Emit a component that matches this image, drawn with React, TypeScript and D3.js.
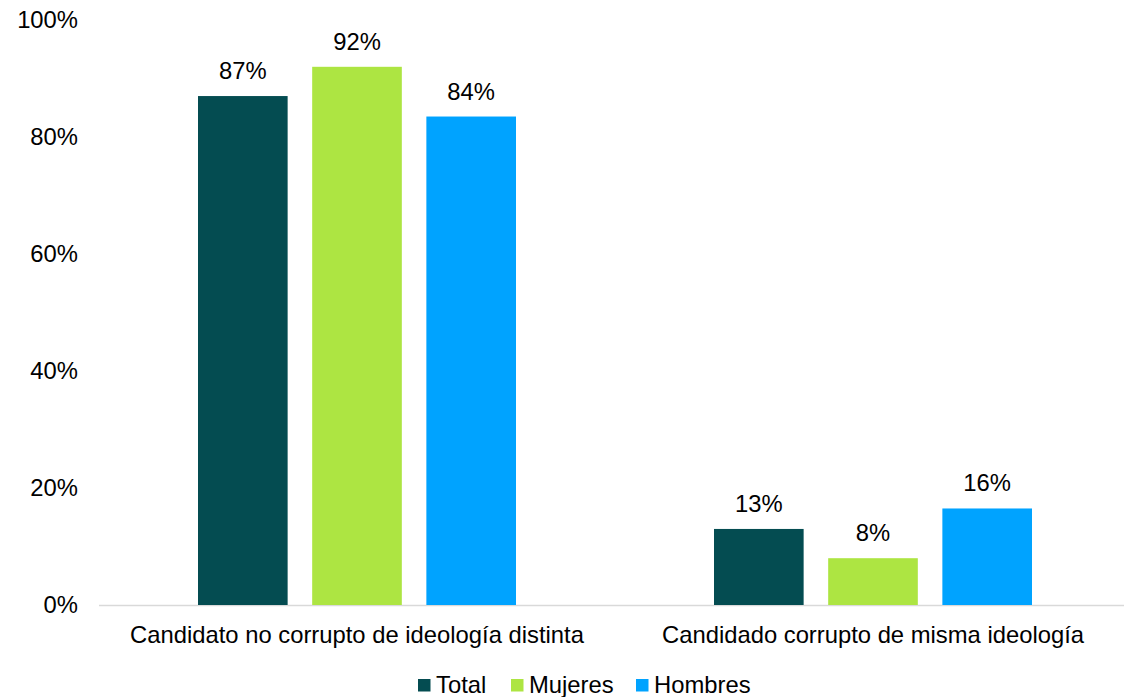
import React from "react";
import * as d3 from "d3";

const categories = ["Candidato no corrupto de ideología distinta", "Candidado corrupto de misma ideología"];
const seriesNames = ["Total", "Mujeres", "Hombres"];
const totalValues = [0.87, 0.13];
const mujeresValues = [0.92, 0.08];
const hombresValues = [0.835, 0.165];
const valueLabels = [["87%", "13%"], ["92%", "8%"], ["84%", "16%"]];
const yTicks = [0, 0.2, 0.4, 0.6, 0.8, 1.0];
const colors = ["#044c51", "#ade542", "#00a3ff"];

const W = 1124;
const H = 697;
const FONT = "'Liberation Sans', Arial, sans-serif";
const FS = 23.8;

export default function App() {
  const series = [totalValues, mujeresValues, hombresValues];
  const x0 = d3.scaleBand<string>().domain(categories).range([99, 1131]).paddingInner(0).paddingOuter(0);
  const x1 = d3.scaleBand<string>().domain(seriesNames).range([-159, 159]).paddingInner(0.215).paddingOuter(0);
  const y = d3.scaleLinear().domain([0, 1]).range([605, 20]);
  const fmt = d3.format(".0%");

  const legendX = [418, 511, 636];

  return (
    <svg width={W} height={H} style={{ position: "absolute", left: 0, top: 0, background: "#fff" }} fontFamily={FONT}>
      {yTicks.map((t) => (
        <text key={t} x={78} y={y(t)} dy="0.35em" textAnchor="end" fontSize={FS} fill="#000">
          {fmt(t)}
        </text>
      ))}
      <line x1={99} x2={1131} y1={y(0) + 0.5} y2={y(0) + 0.5} stroke="#d9d9d9" strokeWidth={1.5} />
      {categories.map((c, ci) => {
        const cx = (x0(c) as number) + x0.bandwidth() / 2;
        return (
          <g key={c}>
            {seriesNames.map((s, si) => {
              const v = series[si][ci];
              const bx = cx + (x1(s) as number);
              return (
                <g key={s}>
                  <rect x={bx} y={y(v)} width={x1.bandwidth()} height={y(0) - y(v)} fill={colors[si]} />
                  <text x={bx + x1.bandwidth() / 2} y={y(v) - 17} textAnchor="middle" fontSize={FS} fill="#000">
                    {valueLabels[si][ci]}
                  </text>
                </g>
              );
            })}
            <text x={cx} y={643} textAnchor="middle" fontSize={FS} fill="#000">
              {c}
            </text>
          </g>
        );
      })}
      {seriesNames.map((s, i) => (
        <g key={s}>
          <rect x={legendX[i]} y={679} width={12.5} height={12.5} fill={colors[i]} />
          <text x={legendX[i] + 18} y={693} fontSize={FS} fill="#000">
            {s}
          </text>
        </g>
      ))}
    </svg>
  );
}
